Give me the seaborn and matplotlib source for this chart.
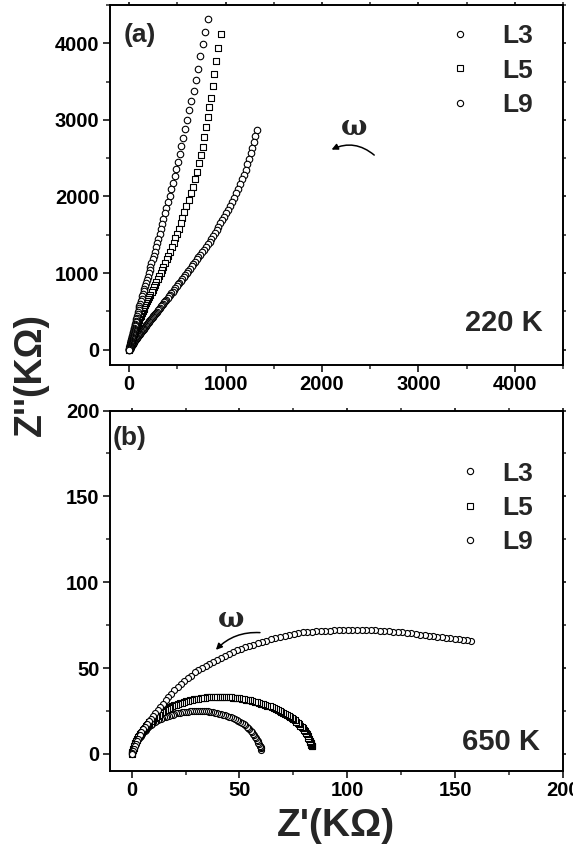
import matplotlib
matplotlib.use("Agg")
import matplotlib.pyplot as plt
import seaborn as sns
import pandas as pd
from matplotlib.lines import Line2D
from matplotlib.ticker import MultipleLocator

# ---------------- data ----------------
series_names = ["L3", "L5", "L9"]

# (a) 220 K   Z' (x) and Z'' (y) in kOhm
a_L3_y = [4321, 4147, 3987, 3831, 3670, 3526, 3378, 3248, 3127, 3005, 2887, 2770, 2658, 2553, 2453, 2360,
          2267, 2180, 2095, 2012, 1932, 1855, 1780, 1710, 1640, 1575, 1512, 1450, 1392, 1335, 1280, 1228,
          1178, 1130, 1083, 1038, 995, 953, 912, 873, 835, 798, 762, 728, 695, 663, 632, 602, 573, 545,
          518, 492, 467, 443, 420, 398, 377, 357, 338, 320, 303, 286, 270, 255, 241, 227, 214, 201, 189,
          178, 167, 156, 146, 137, 128, 119, 111, 103, 95, 88, 81, 74, 68, 62, 56, 50, 45, 40, 35, 30, 25,
          20, 15, 10, 5, 0]
a_L3_x = [814, 790, 769, 738, 717, 693, 668, 641, 624, 600, 582, 560, 541, 522, 504, 487,
          471, 453, 435, 418, 401, 385, 370, 355, 341, 327, 314, 302, 289, 276, 264, 252,
          241, 230, 220, 210, 200, 191, 182, 173, 165, 157, 149, 141, 134, 127, 120, 113, 106, 101,
          96, 91, 87, 82, 78, 74, 70, 66, 63, 59, 56, 53, 50, 47, 44, 41, 39, 36, 34,
          32, 30, 28, 26, 25, 23, 22, 20, 19, 18, 16, 15, 14, 13, 12, 11, 10, 9, 8, 7, 6, 5,
          4, 3, 2, 1, 0]

a_L5_y = [4126, 3939, 3766, 3596, 3440, 3292, 3162, 3032, 2902, 2779, 2649, 2541, 2433, 2323, 2224,
          2130, 2040, 1955, 1873, 1795, 1720, 1648, 1580, 1515, 1452, 1392, 1335, 1280, 1228, 1178, 1130,
          1084, 1040, 998, 958, 920, 883, 848, 814, 781, 749, 718, 688, 659, 631, 604, 578, 553, 529, 506,
          484, 462, 441, 421, 401, 382, 364, 346, 329, 313, 297, 282, 267, 253, 239, 226, 213, 201, 189,
          177, 166, 155, 145, 135, 125, 116, 107, 98, 90, 82, 74, 67, 60, 53, 46, 40, 34, 28, 22, 16, 11,
          6, 0]
a_L5_x = [953, 918, 901, 884, 866, 849, 832, 814, 797, 780, 762, 745, 728, 704, 686,
          661, 637, 615, 593, 572, 552, 532, 513, 495, 477, 460, 442, 424, 406, 388, 371,
          355, 340, 325, 310, 296, 282, 269, 256, 243, 231, 219, 208, 197, 186, 176, 166, 157, 148, 140,
          132, 124, 117, 110, 103, 97, 91, 86, 80, 75, 70, 66, 62, 58, 54, 50, 47, 44, 41,
          38, 36, 33, 31, 29, 27, 25, 23, 21, 19, 17, 15, 13, 12, 10, 9, 8, 6, 5, 4, 3, 2,
          1, 0]

a_L9_y = [2870, 2790, 2712, 2636, 2562, 2490, 2420, 2352, 2286, 2222, 2160, 2100, 2042, 1986, 1932,
          1880, 1830, 1782, 1736, 1692, 1649, 1607, 1566, 1526, 1487, 1449, 1412, 1376, 1341, 1307,
          1274, 1241, 1209, 1178, 1147, 1117, 1088, 1059, 1031, 1004, 977, 951, 925, 900, 875, 851,
          827, 804, 781, 759, 737, 716, 695, 675, 655, 636, 617, 599, 581, 564, 547, 530, 514, 498,
          482, 467, 452, 437, 423, 409, 395, 382, 369, 356, 344, 332, 320, 308, 297, 286, 275, 265,
          255, 245, 235, 226, 217, 208, 199, 191, 183, 175, 167, 159, 152, 145, 138, 131, 124, 117,
          110, 104, 98, 92, 86, 80, 74, 68, 62, 56, 50, 44, 38, 32, 26, 20, 14, 8, 0]
a_L9_x = [1320, 1305, 1290, 1275, 1259, 1241, 1224, 1208, 1190, 1169, 1148, 1128, 1109, 1089, 1066,
          1043, 1021, 1001, 981, 962, 942, 923, 905, 887, 869, 852, 833, 812, 792, 772,
          753, 734, 716, 698, 680, 663, 646, 630, 613, 598, 582, 566, 550, 535, 519, 505,
          490, 476, 462, 449, 435, 422, 409, 397, 385, 373, 362, 351, 340, 329, 319, 308, 298, 288,
          279, 269, 260, 251, 242, 233, 225, 217, 209, 201, 193, 186, 178, 171, 164, 157, 150, 144,
          138, 132, 126, 120, 115, 109, 104, 99, 94, 89, 84, 79, 74, 70, 66, 61, 57, 54,
          51, 48, 45, 42, 40, 37, 34, 31, 29, 26, 23, 20, 17, 15, 12, 9, 6, 4, 0]

# (b) 650 K
b_L3_x = [157.5, 155.5, 153.6, 151.7, 149.8, 147.8, 145.8, 143.8, 141.8, 139.8, 137.8, 135.8, 133.8,
          131.8, 129.7, 127.6, 125.5, 123.4, 121.3, 119.2, 117.1, 115.0, 112.9, 110.8, 108.7, 106.6,
          104.5, 102.4, 100.3, 98.2, 96.1, 94.0, 91.9, 89.8, 87.7, 85.6, 83.5, 81.4, 79.3, 77.2, 75.1,
          73.0, 70.9, 68.8, 66.7, 64.6, 62.5, 60.5, 58.5, 56.5, 54.5, 52.6, 50.7, 48.8, 46.9, 45.0,
          43.2, 41.4, 39.6, 37.8, 36.0, 34.3, 32.6, 30.9, 29.2, 27.6, 26.0, 24.4, 22.9, 21.4, 19.9,
          18.5, 17.1, 15.8, 14.5, 13.3, 12.1, 11.0, 9.9, 8.9, 7.9, 7.0, 6.1, 5.3, 4.5, 3.8, 3.1, 2.5,
          1.9, 1.4, 0.9, 0.5, 0.2, 0.0]
b_L3_y = [66.0, 66.2, 66.5, 66.8, 67.0, 67.3, 67.6, 67.9, 68.2, 68.5, 68.8, 69.2, 69.5,
          69.8, 70.1, 70.4, 70.7, 71.0, 71.2, 71.4, 71.6, 71.7, 71.9, 72.0, 72.1, 72.2,
          72.2, 72.2, 72.2, 72.1, 72.0, 71.9, 71.8, 71.7, 71.5, 71.3, 71.1, 70.9, 70.7, 70.4, 70.0,
          69.4, 68.8, 68.1, 67.4, 66.7, 65.9, 65.2, 64.4, 63.6, 62.8, 62.0, 61.3, 60.3, 59.4, 58.2,
          57.0, 55.9, 54.7, 53.5, 52.4, 51.2, 49.9, 48.7, 47.4, 45.6, 44.2, 42.3, 40.5, 38.7, 36.9,
          34.9, 32.9, 31.1, 29.2, 27.3, 25.4, 23.6, 21.8, 20.3, 18.9, 17.5, 15.8, 14.5, 12.6, 11.0, 8.7, 7.2,
          5.7, 4.3, 2.9, 1.6, 0.6, 0.0]

b_L5_x = [83.6, 83.5, 83.4, 83.3, 83.1, 82.9, 82.6, 82.3, 82.0, 81.6, 81.2, 80.8, 80.3, 79.8, 79.3,
          78.8, 78.2, 77.6, 77.0, 76.4, 75.7, 75.0, 74.3, 73.6, 72.8, 72.0, 71.2, 70.4, 69.5, 68.6,
          67.7, 66.8, 65.9, 65.0, 64.0, 63.0, 62.0, 61.0, 60.0, 59.0, 58.0, 57.0, 56.0, 55.0, 54.0,
          53.0, 52.0, 51.0, 50.0, 49.0, 48.0, 47.0, 46.0, 45.0, 44.0, 43.0, 42.0, 41.0, 40.0, 39.0,
          38.0, 37.0, 36.0, 35.0, 34.0, 33.0, 32.0, 31.0, 30.0, 29.0, 28.0, 27.0, 26.0, 25.0, 24.1,
          23.2, 22.3, 21.4, 20.5, 19.6, 18.8, 18.0, 17.2, 16.4, 15.6, 14.8, 14.1, 13.4, 12.7, 12.0,
          11.3, 10.6, 10.0, 9.4, 8.8, 8.2, 7.6, 7.1, 6.6, 6.1, 5.6, 5.1, 4.7, 4.3, 3.9, 3.5, 3.1,
          2.7, 2.4, 2.1, 1.8, 1.5, 1.2, 0.9, 0.7, 0.5, 0.3, 0.1, 0.0]
b_L5_y = [4.5, 4.8, 5.2, 5.5, 6.1, 6.8, 7.7, 8.5, 9.3, 10.4, 11.5, 12.4, 13.2, 14.1, 15.0,
          15.8, 16.5, 17.3, 18.0, 18.8, 19.6, 20.2, 20.8, 21.5, 22.2, 22.8, 23.4, 24.0, 24.6, 25.1,
          25.6, 26.2, 26.7, 27.2, 27.6, 28.0, 28.4, 28.9, 29.3, 29.7, 30.0, 30.4, 30.7, 31.1, 31.3,
          31.6, 31.8, 32.1, 32.3, 32.4, 32.6, 32.7, 32.9, 33.0, 33.1, 33.1, 33.2, 33.2, 33.3, 33.2,
          33.2, 33.1, 33.1, 33.0, 32.8, 32.6, 32.4, 32.2, 32.0, 31.7, 31.4, 31.1, 30.8, 30.5, 30.1,
          29.8, 29.4, 29.1, 28.7, 28.2, 27.7, 27.1, 26.5, 26.0, 25.4, 24.8, 24.2, 23.6, 22.9, 22.3,
          21.7, 21.0, 20.5, 19.8, 19.1, 18.3, 17.6, 16.9, 16.1, 15.3, 14.5, 13.7, 12.9, 12.1, 11.3, 10.5, 9.8,
          8.8, 8.2, 7.3, 6.4, 5.5, 4.6, 3.6, 2.8, 2.0, 1.2, 0.4, 0.0]

b_L9_x = [60.1, 60.0, 59.9, 59.8, 59.6, 59.4, 59.1, 58.8, 58.5, 58.1, 57.7, 57.3, 56.8, 56.3, 55.8,
          55.2, 54.6, 54.0, 53.3, 52.6, 51.9, 51.1, 50.3, 49.5, 48.7, 47.8, 46.9, 46.0, 45.1, 44.2,
          43.3, 42.4, 41.5, 40.6, 39.7, 38.8, 37.9, 37.0, 36.1, 35.2, 34.3, 33.4, 32.5, 31.6, 30.7,
          29.8, 28.9, 28.0, 27.1, 26.2, 25.3, 24.4, 23.5, 22.6, 21.7, 20.8, 19.9, 19.0, 18.2, 17.4,
          16.6, 15.8, 15.0, 14.2, 13.5, 12.8, 12.1, 11.4, 10.7, 10.0, 9.4, 8.8, 8.2, 7.6, 7.0, 6.5,
          6.0, 5.5, 5.0, 4.6, 4.2, 3.8, 3.4, 3.0, 2.7, 2.4, 2.1, 1.8, 1.5, 1.2, 0.9, 0.7, 0.5, 0.3,
          0.1, 0.0]
b_L9_y = [2.5, 3.3, 3.6, 3.8, 4.3, 4.8, 5.7, 6.6, 7.5, 8.3, 9.1, 9.9, 10.8, 11.6, 12.5,
          13.5, 14.3, 15.1, 15.9, 16.7, 17.3, 18.0, 18.7, 19.3, 19.7, 20.2, 20.7, 21.2, 21.7, 22.1,
          22.4, 22.7, 23.1, 23.4, 23.7, 23.9, 24.1, 24.3, 24.5, 24.7, 24.7, 24.8, 24.8, 24.9, 25.0,
          25.0, 24.9, 24.8, 24.7, 24.6, 24.5, 24.4, 24.1, 23.9, 23.7, 23.5, 23.3, 22.9, 22.6, 22.3,
          22.0, 21.7, 21.5, 21.0, 20.5, 20.1, 19.6, 19.2, 18.8, 18.3, 17.6, 17.0, 16.3, 15.6, 14.8, 14.0,
          13.2, 12.5, 11.8, 11.1, 10.5, 9.8, 9.2, 8.5, 7.8, 7.2, 6.5, 5.9, 5.0, 4.2, 3.2, 2.5, 1.8, 1.1,
          0.4, 0.0]

a_xticks = [0, 1000, 2000, 3000, 4000]
a_yticks = [0, 1000, 2000, 3000, 4000]
b_xticks = [0, 50, 100, 150, 200]
b_yticks = [0, 50, 100, 150, 200]

markers = {"L3": "o", "L5": "s", "L9": "o"}

def frame(xs, ys, name):
    return pd.DataFrame({"x": xs, "y": ys, "series": name})

df_a = pd.concat([frame(a_L9_x, a_L9_y, "L9"), frame(a_L5_x, a_L5_y, "L5"),
                  frame(a_L3_x, a_L3_y, "L3")], ignore_index=True)
df_b = pd.concat([frame(b_L9_x, b_L9_y, "L9"), frame(b_L5_x, b_L5_y, "L5"),
                  frame(b_L3_x, b_L3_y, "L3")], ignore_index=True)

# ---------------- style ----------------
sns.set_style("ticks")
plt.rcParams["font.family"] = ["Liberation Sans", "DejaVu Sans"]
plt.rcParams["font.weight"] = "bold"
plt.rcParams["axes.linewidth"] = 1.4

fig = plt.figure(figsize=(5.73, 8.52), dpi=100)
W, H = 573.0, 852.0
ax1 = fig.add_axes([110 / W, (H - 365) / H, 453 / W, 360 / H])
ax2 = fig.add_axes([110 / W, (H - 771) / H, 453 / W, 360.5 / H])


def draw(ax, df, size):
    for name in ["L9", "L5", "L3"]:
        sub = df[df["series"] == name]
        sns.scatterplot(data=sub, x="x", y="y", marker=markers[name], s=size,
                        color="black", facecolor="white", edgecolor="black",
                        linewidth=0.8, ax=ax, legend=False, zorder=3)


def style_axes(ax, xlim, ylim, xt, yt, minor):
    ax.set_xlim(*xlim)
    ax.set_ylim(*ylim)
    ax.set_xticks(xt)
    ax.set_yticks(yt)
    ax.xaxis.set_minor_locator(MultipleLocator(minor))
    ax.yaxis.set_minor_locator(MultipleLocator(minor))
    ax.set_xlabel("")
    ax.set_ylabel("")
    for sp in ax.spines.values():
        sp.set_visible(True)
        sp.set_linewidth(1.4)
        sp.set_color("black")
    ax.tick_params(axis="both", which="major", direction="out", length=5, width=1.1,
                   labelsize=14.5, pad=2.5, colors="black")
    ax.tick_params(axis="both", which="minor", direction="out", length=3, width=1.1)
    ax.tick_params(top=True, right=True, which="both")
    for lab in ax.get_xticklabels() + ax.get_yticklabels():
        lab.set_fontweight("bold")
    for t in ax.xaxis.get_major_ticks() + ax.xaxis.get_minor_ticks():
        t.tick2line.set_markersize(2)
    for t in ax.yaxis.get_major_ticks() + ax.yaxis.get_minor_ticks():
        t.tick2line.set_markersize(2)


draw(ax1, df_a, 22)
draw(ax2, df_b, 19)

style_axes(ax1, (-200, 4500), (-200, 4500), a_xticks, a_yticks, 500)
style_axes(ax2, (-10, 200), (-10, 200), b_xticks, b_yticks, 25)


def legend(ax, anchor, pad):
    handles = [Line2D([], [], ls="", marker=markers[n], ms=4.5, mfc="white", mec="black", mew=0.8)
               for n in series_names]
    ax.legend(handles, series_names, loc="upper right", bbox_to_anchor=anchor, frameon=False,
              prop={"weight": "bold", "size": 19}, handlelength=1.0, handletextpad=pad,
              labelspacing=0.39, borderpad=0, borderaxespad=0)


legend(ax1, (0.935, 0.946), 1.1)
legend(ax2, (0.935, 0.858), 0.72)

ax1.text(0.03, 0.917, "(a)", transform=ax1.transAxes, fontsize=19, fontweight="bold",
         ha="left", va="center")
ax2.text(0.005, 0.924, "(b)", transform=ax2.transAxes, fontsize=19, fontweight="bold",
         ha="left", va="center")
ax1.text(0.955, 0.117, "220 K", transform=ax1.transAxes, fontsize=21, fontweight="bold",
         ha="right", va="center")
ax2.text(0.949, 0.08, "650 K", transform=ax2.transAxes, fontsize=21, fontweight="bold",
         ha="right", va="center")

# omega labels with curved arrows
ax1.text(2334, 2896, "ω", fontsize=20, fontweight="bold", family=["DejaVu Serif"],
         ha="center", va="center")
ax1.annotate("", xy=(2073, 2596), xytext=(2563, 2517),
             arrowprops=dict(arrowstyle="-|>", color="black", lw=1.1, mutation_scale=9,
                             connectionstyle="arc3,rad=0.35"))
ax2.text(46.1, 78.0, "ω", fontsize=20, fontweight="bold", family=["DejaVu Serif"],
         ha="center", va="center")
ax2.annotate("", xy=(38.2, 59.4), xytext=(60.8, 70.5),
             arrowprops=dict(arrowstyle="-|>", color="black", lw=1.1, mutation_scale=9,
                             connectionstyle="arc3,rad=0.25"))

fig.text(31 / W, (H - 375) / H, "Z''(KΩ)", rotation=90, fontsize=27, fontweight="bold",
         ha="center", va="center")
fig.text(336 / W, (H - 826) / H, "Z'(KΩ)", fontsize=28, fontweight="bold",
         ha="center", va="center")

fig.savefig("out.png", dpi=100)
